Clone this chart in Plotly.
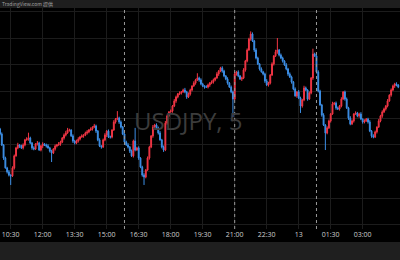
import plotly.graph_objects as go
import pandas as pd
import numpy as np

# ---- data (USDJPY 5-minute bars), prices as milli-yen offsets from 150.000 ----
base_price = 150.0
first_open = -40
close_milli = [
    -59, -100, -149, -186, -201, -213, -216, -186, -141, -111, -100, -104, -111, -100, -81,
    -78, -74, -93, -111, -115, -96, -93, -119, -104, -96, -100, -104, -111, -123, -130,
    -115, -104, -100, -96, -89, -74, -63, -55, -44, -44, -66, -85, -93, -85, -78,
    -70, -66, -63, -55, -51, -44, -40, -33, -29, -48, -81, -104, -108, -81, -63,
    -48, -70, -70, -44, -14, -3, 1, -14, -33, -59, -89, -100, -108, -123, -141,
    -85, -119, -111, -149, -183, -213, -220, -194, -149, -108, -66, -33, -25, -36, -55,
    -81, -108, -119, -18, 9, 24, 27, 46, 65, 80, 91, 95, 99, 106, 99,
    80, 91, 106, 121, 132, 144, 151, 144, 129, 121, 117, 117, 125, 132, 136,
    144, 151, 166, 177, 189, 177, 159, 147, 132, 117, 99, 72, 166, 174, 159,
    147, 151, 181, 215, 256, 297, 316, 290, 256, 226, 204, 185, 174, 166, 140,
    125, 132, 162, 204, 234, 249, 256, 237, 226, 215, 200, 185, 166, 155, 136,
    110, 84, 99, 76, 46, 69, 114, 106, 72, 95, 151, 241, 234, 174, 102,
    50, 12, -25, -55, -36, -10, 16, 54, 57, 39, 35, 46, 72, 99, 72,
    39, 1, -21, -10, 16, 20, 9, 16, -3, -14, -10, -3, -14, -48, -66,
    -70, -51, -33, -10, 9, 24, 35, 46, 65, 87, 106, 121, 129, 125, 117,
]
upper_wick_milli = [
    4, 6, 3, 5, 4, 7, 3, 6, 5, 4, 8, 3, 5, 6, 4,
    7, 20, 5, 4, 6, 3, 8, 5, 4, 6, 3, 5, 7, 4, 5,
    3, 6, 4, 7, 5, 4, 6, 8, 8, 5, 3, 6, 4, 5, 7,
    4, 6, 3, 5, 7, 4, 6, 3, 8, 5, 4, 6, 3, 5, 7,
    4, 6, 5, 3, 7, 4, 26, 5, 6, 4, 3, 5, 7, 4, 6,
    5, 49, 4, 6, 3, 5, 7, 4, 6, 5, 3, 8, 4, 6, 5,
    7, 4, 6, 8, 5, 3, 6, 4, 7, 5, 4, 6, 3, 5, 8,
    4, 6, 5, 3, 7, 4, 18, 5, 6, 4, 3, 7, 5, 4, 6,
    5, 3, 7, 4, 4, 6, 5, 3, 7, 4, 6, 5, 8, 4, 6,
    3, 5, 7, 4, 6, 5, 10, 6, 4, 7, 5, 3, 6, 4, 5,
    7, 5, 4, 6, 3, 8, 45, 4, 6, 5, 3, 7, 4, 6, 5,
    4, 6, 3, 7, 5, 4, 8, 5, 3, 6, 4, 20, 5, 3, 6,
    5, 4, 7, 3, 6, 5, 4, 8, 3, 6, 5, 4, 7, 3, 5,
    6, 4, 7, 5, 3, 6, 4, 5, 7, 3, 6, 4, 5, 7, 4,
    6, 5, 3, 7, 4, 6, 5, 4, 7, 3, 6, 5, 4, 6, 3,
]
lower_wick_milli = [
    5, 4, 7, 3, 6, 5, 34, 4, 6, 3, 5, 7, 4, 6, 5,
    3, 6, 4, 7, 5, 4, 6, 3, 5, 8, 4, 6, 3, 5, 34,
    4, 6, 5, 3, 7, 4, 6, 5, 3, 6, 4, 7, 5, 4, 6,
    5, 3, 7, 4, 6, 5, 3, 6, 4, 7, 5, 4, 6, 3, 5,
    7, 4, 6, 5, 3, 6, 4, 7, 5, 4, 6, 3, 5, 7, 4,
    6, 5, 3, 7, 4, 6, 30, 5, 3, 6, 4, 7, 5, 4, 6,
    3, 5, 7, 4, 6, 5, 3, 6, 4, 7, 5, 4, 6, 3, 5,
    7, 4, 6, 5, 3, 6, 4, 7, 5, 4, 6, 3, 5, 7, 4,
    6, 5, 3, 7, 4, 6, 5, 4, 6, 3, 5, 68, 4, 6, 5,
    3, 7, 4, 6, 5, 3, 6, 4, 7, 5, 4, 6, 3, 5, 7,
    4, 6, 5, 3, 6, 4, 7, 5, 4, 6, 3, 5, 7, 4, 6,
    5, 3, 7, 4, 26, 6, 5, 4, 6, 3, 5, 7, 4, 6, 5,
    3, 6, 4, 64, 5, 4, 6, 3, 5, 7, 4, 6, 5, 3, 6,
    4, 7, 5, 4, 6, 3, 5, 7, 4, 6, 5, 3, 6, 4, 7,
    5, 4, 6, 3, 5, 7, 4, 6, 5, 3, 6, 4, 7, 5, 4,
]
bar_start = "2024-11-12 10:00"
bar_minutes = 5
tick_times = ["2024-11-12 10:30", "2024-11-12 12:00", "2024-11-12 13:30", "2024-11-12 15:00",
              "2024-11-12 16:30", "2024-11-12 18:00", "2024-11-12 19:30", "2024-11-12 21:00",
              "2024-11-12 22:30", "2024-11-13 00:00", "2024-11-13 01:30", "2024-11-13 03:00"]
tick_labels = ["10:30", "12:00", "13:30", "15:00", "16:30", "18:00", "19:30", "21:00",
               "22:30", "13", "01:30", "03:00"]
session_breaks = ["2024-11-12 15:50", "2024-11-12 21:00", "2024-11-13 00:50"]
symbol_label = "USDJPY, 5"
header_text = "TradingView.com 提供"

# ---- build OHLC ----
c = base_price + np.array(close_milli) / 1000.0
o = np.concatenate([[base_price + first_open / 1000.0], c[:-1]])
h = np.maximum(o, c) + np.array(upper_wick_milli) / 1000.0
l = np.minimum(o, c) - np.array(lower_wick_milli) / 1000.0
t = pd.date_range(bar_start, periods=len(c), freq=f"{bar_minutes}min")

UP = "#f23645"
DOWN = "#3d8fe6"

fig = go.Figure()
fig.add_trace(go.Candlestick(
    x=t, open=o, high=h, low=l, close=c,
    increasing=dict(line=dict(color=UP, width=1), fillcolor=UP),
    decreasing=dict(line=dict(color=DOWN, width=1), fillcolor=DOWN),
    whiskerwidth=0, hoverinfo="skip",
))

W, H = 400, 260
mt, mb = 8, 31
ph = H - mt - mb

x0 = pd.Timestamp(bar_start) - pd.Timedelta(seconds=5)
x1 = x0 + pd.Timedelta(minutes=bar_minutes * 225)

y_per_px = 0.00375
y_top = base_price + (118.3 - mt) * y_per_px
y_bot = base_price - (H - mb - 118.3) * y_per_px

shapes = []
for sb in session_breaks:
    shapes.append(dict(type="line", xref="x", yref="paper", x0=sb, x1=sb, y0=0, y1=1,
                       line=dict(color="#9a9a9a", width=1, dash="3px,3px"), layer="above"))
# header and footer bands
shapes.append(dict(type="rect", xref="paper", yref="paper", x0=-0.01, x1=1.01,
                   y0=1, y1=1 + (mt + 2) / ph, fillcolor="#1e1e1e", line=dict(width=0)))
shapes.append(dict(type="rect", xref="paper", yref="paper", x0=-0.01, x1=1.01,
                   y0=-(242 - (H - mb)) / ph, y1=-(mb + 5) / ph, fillcolor="#1f1f1f",
                   line=dict(width=0)))

fig.update_layout(
    width=W, height=H,
    margin=dict(l=0, r=0, t=mt, b=mb, pad=0),
    paper_bgcolor="#000000", plot_bgcolor="#000000",
    showlegend=False, hovermode=False,
    shapes=shapes,
    annotations=[
        dict(text=symbol_label, xref="paper", yref="paper", x=188 / W, y=1 - (121 - mt) / ph,
             showarrow=False, font=dict(family="Open Sans", size=24, color="#3c3c3c"),
             xanchor="center", yanchor="middle"),
        dict(text=header_text, xref="paper", yref="paper", x=0, y=1 + (mt / 2) / ph,
             showarrow=False, font=dict(family="Noto Sans CJK SC", size=5, color="#a0a0a0"),
             xanchor="left", yanchor="middle"),
    ],
    xaxis=dict(type="date", range=[x0, x1], rangeslider=dict(visible=False),
               tickvals=tick_times, ticktext=tick_labels, showgrid=True,
               gridcolor="#1c1c1c", gridwidth=1, zeroline=False, showline=False,
               ticks="", tickfont=dict(family="Open Sans", size=7, color="#cfcfcf"),
               fixedrange=True),
    yaxis=dict(range=[y_bot, y_top], tick0=base_price, dtick=0.1, showgrid=True,
               gridcolor="#1c1c1c", gridwidth=1, zeroline=False, showticklabels=False,
               showline=False, fixedrange=True),
)

fig.write_html("out.html")
